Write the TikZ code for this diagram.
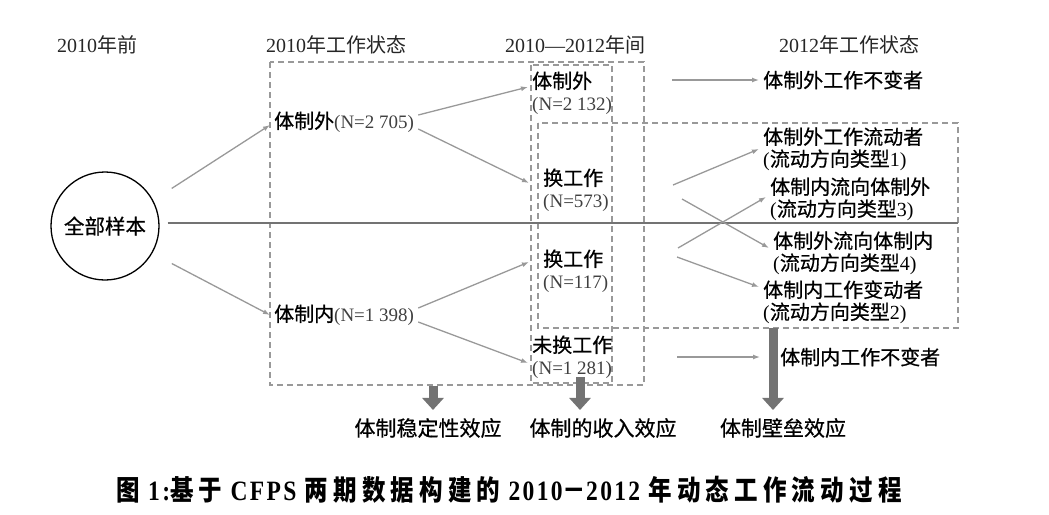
\documentclass[tikz,border=0pt]{standalone}
\usepackage{graphicx}
\usepackage{fontspec}
\setmainfont{Liberation Serif}
\newfontfamily\song{Noto Sans CJK SC}
\newfontfamily\hei{Noto Sans CJK SC}[FakeBold=0.6]
\newfontfamily\capzh{Noto Sans CJK SC}[LetterSpace=22]
\newfontfamily\caplat{Liberation Serif}[LetterSpace=10]
\usetikzlibrary{arrows.meta}

\newcommand{\cnt}[1]{\textcolor{black!75}{\fontsize{19}{22}\selectfont #1}}

\begin{document}
\begin{tikzpicture}[x=1pt,y=-1pt,
    flow/.style={draw=black!40, line width=1.3pt, -{Latex[length=7pt,width=5pt]}},
    dashbox/.style={draw=black!40, line width=1.4pt, dash pattern=on 6pt off 4pt},
    head/.style={font=\fontsize{20}{22}\selectfont, text=black!85, inner sep=0pt},
    lab/.style={font=\fontsize{20}{22}\selectfont, inner xsep=4pt, inner ysep=0pt, align=left, anchor=west},
    swlab/.style={lab, inner xsep=14pt},
    effect/.style={font=\fontsize{21}{23}\selectfont\hei, inner sep=0pt},
    block/.style={draw=black!55, line width=9pt, shorten >=8pt, -{Triangle[length=12pt,width=21pt]}}
    ]
  \useasboundingbox (0,0) rectangle (1049,514);

  % column heads
  \node[head] (h1) at (97,45)  {2010{\song 年前}};
  \node[head] (h2) at (336,45) {2010{\song 年工作状态}};
  \node[head] (h3) at (575,45) {2010—2012{\song 年间}};
  \node[head] (h4) at (849,45) {2012{\song 年工作状态}};

  % dashed groups
  \draw[dashbox] (270,62) rectangle (644,385);
  \draw[dashbox] (531,65) rectangle (612,383);
  \draw[dashbox] (538,123) rectangle (958,328);

  \node[circle, draw, line width=1.3pt, minimum size=108pt, inner sep=0pt,
        font=\fontsize{20.5}{22}\selectfont\hei] (all) at (105,226) {全部样本};

  \node[lab] (out10) at (270,122) {{\hei 体制外}\cnt{(N=2 705)}};
  \node[lab] (in10)  at (270,315) {{\hei 体制内}\cnt{(N=1 398)}};

  \node[lab]   (outstay) at (528,93)  {{\hei 体制外}\\\cnt{(N=2 132)}};
  \node[swlab] (sw1)     at (529,190) {{\hei 换工作}\\\cnt{(N=573)}};
  \node[swlab] (sw2)     at (529,271) {{\hei 换工作}\\\cnt{(N=117)}};
  \node[lab]   (instay)  at (528,357) {{\hei 未换工作}\\\cnt{(N=1 281)}};

  \node[lab] (r0) at (759,80)  {{\hei 体制外工作不变者}};
  \node[lab] (r1) at (759,149) {{\hei 体制外工作流动者}\\({\hei 流动方向类型}1)};
  \node[lab] (r3) at (766,199) {{\hei 体制内流向体制外}\\({\hei 流动方向类型}3)};
  \node[lab] (r4) at (769,253) {{\hei 体制外流向体制内}\\({\hei 流动方向类型}4)};
  \node[lab] (r2) at (759,302) {{\hei 体制内工作变动者}\\({\hei 流动方向类型}2)};
  \node[lab] (r5) at (776,357) {{\hei 体制内工作不变者}};

  \node[effect] (e1) at (428,428) {体制稳定性效应};
  \node[effect] (e2) at (603,428) {体制的收入效应};
  \node[effect] (e3) at (783,428) {体制壁垒效应};

  \coordinate (hl) at (958,223);
  \coordinate (a0) at (672,80);
  \coordinate (a1) at (673,185);
  \coordinate (a4) at (682,199);
  \coordinate (a3) at (678,248);
  \coordinate (a2) at (677,257);
  \coordinate (a5) at (677,357);
  \coordinate (b1) at (433,386);
  \coordinate (b2) at (580,377);
  \coordinate (b3) at (773,328);

  \draw[draw=black!55, line width=2pt, shorten <=8pt] ([yshift=3pt]all.east) -- (hl);

  \draw[flow, shorten <=22pt] (all.28)  -- ([yshift=-3pt]out10.west);
  \draw[flow, shorten <=22pt] (all.-30) -- (in10.west);

  \draw[flow] ([yshift=7pt]out10.east)  -- ([yshift=6pt]outstay.west);
  \draw[flow] ([yshift=-7pt]out10.east) -- ([yshift=7pt]sw1.west);
  \draw[flow] ([yshift=7pt]in10.east)   -- ([yshift=9pt]sw2.west);
  \draw[flow] ([yshift=-7pt]in10.east)  -- ([yshift=-6pt]instay.west);

  \draw[flow] (a0) -- (r0.west);
  \draw[flow] (a1) -- (r1.west);
  \draw[flow] (a4) -- ([yshift=5pt]r4.west);
  \draw[flow] (a3) -- ([yshift=2pt]r3.west);
  \draw[flow] (a2) -- ([yshift=15pt]r2.west);
  \draw[flow] (a5) -- ([xshift=-16pt]r5.west);

  \draw[block] (b1) -- (b1 |- e1.north);
  \draw[block] (b2) -- (b2 |- e2.north);
  \draw[block] (b3) -- (b3 |- e3.north);

  \node[font=\fontsize{28}{30}\selectfont\bfseries] (cap) at (509,490)
    {\scalebox{0.84}[1]{{\capzh 图}\caplat\ 1:{\capzh 基于}\ CFPS\ {\capzh 两期数据构建的}\ 2010{\capzh －}2012\ {\capzh 年动态工作流动过程}}};
\end{tikzpicture}
\end{document}
